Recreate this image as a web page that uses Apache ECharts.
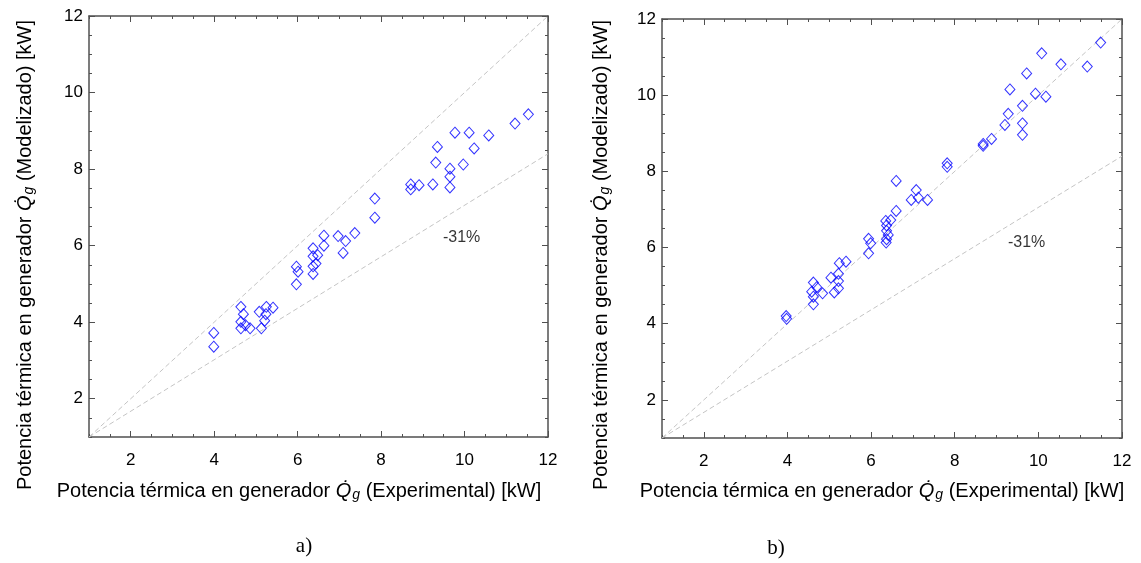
<!DOCTYPE html>
<html>
<head>
<meta charset="utf-8">
<script src="https://cdn.jsdelivr.net/npm/echarts@6/dist/echarts.min.js"></script>
<style>
  html, body { margin: 0; padding: 0; background: #fff; }
  #main { width: 1141px; height: 563px; }
</style>
</head>
<body>
<div id="main"></div>
<script>
// Qg experimental vs modelled, panel a) and b)
const leftExp = [3.99,3.99,4.64,4.70,4.64,4.64,4.75,4.86,5.08,5.13,5.21,5.24,5.25,5.41,5.97,6.01,5.97,6.37,6.37,6.37,6.37,6.44,6.48,6.63,6.63,6.97,7.15,7.09,7.37,7.85,7.85,8.71,8.71,8.91,9.24,9.31,9.35,9.65,9.65,9.65,9.77,9.97,10.11,10.23,10.58,11.21,11.53];
const leftMod = [3.72,3.36,4.40,4.21,4.01,3.84,3.92,3.84,4.27,3.84,4.04,4.21,4.40,4.38,5.45,5.32,4.99,5.93,5.72,5.46,5.26,5.53,5.75,6.00,6.26,6.25,6.12,5.81,6.33,7.23,6.73,7.60,7.47,7.58,7.60,8.17,8.58,8.01,7.80,7.52,8.95,8.12,8.95,8.54,8.88,9.19,9.43];

const rightExp = [3.97,3.98,4.62,4.58,4.70,4.62,4.62,4.84,5.04,5.12,5.22,5.22,5.22,5.24,5.40,5.94,5.99,5.94,6.35,6.37,6.37,6.41,6.37,6.36,6.47,6.60,6.60,6.96,7.08,7.13,7.35,7.82,7.82,8.68,8.68,8.88,9.20,9.28,9.32,9.62,9.62,9.62,9.72,9.93,10.08,10.18,10.54,11.17,11.49];
const rightMod = [4.20,4.13,5.08,4.84,4.96,4.71,4.51,4.80,5.21,4.82,5.31,5.12,4.93,5.59,5.63,6.23,6.11,5.85,6.70,6.58,6.44,6.33,6.22,6.13,6.72,6.96,7.75,7.25,7.51,7.31,7.25,8.21,8.12,8.72,8.67,8.85,9.22,9.51,10.15,9.72,9.26,8.96,10.57,10.04,11.10,9.96,10.81,10.75,11.38];

// reference lines (y = x and the -31% line), drawn from corner to corner
const lineX = [1, 12];
const idealY = [1, 12];
const lowY = [1, 8.4];

const tickLabels = [2, 4, 6, 8, 10, 12];
const pctText = '-31%';
const pctLeft = [9.93, 6.22];
const pctRight = [9.72, 6.12];

const FONT = "'Liberation Sans', Arial, sans-serif";
const AXIS_COLOR = '#505050';

const zip = (a, b) => a.map((v, i) => [v, b[i]]);

function makeAxes(grid, dim) {
  const sides = dim === 'x' ? ['bottom', 'top'] : ['left', 'right'];
  const out = [];
  sides.forEach((pos, k) => {
    const base = {type: 'value', gridIndex: grid, position: pos, min: 1, max: 12, splitLine: {show: false}};
    // minor ticks every 0.5 + box line
    out.push(Object.assign({}, base, {
      interval: 0.5,
      axisLine: {show: true, lineStyle: {color: AXIS_COLOR, width: 1.5}},
      axisTick: {show: true, inside: true, length: 3, lineStyle: {color: AXIS_COLOR, width: 1}},
      axisLabel: {show: false}
    }));
    // major ticks + labels
    out.push(Object.assign({}, base, {
      interval: 0.5,
      axisLine: {show: false},
      axisTick: {show: true, inside: true, length: 6, customValues: tickLabels, lineStyle: {color: AXIS_COLOR, width: 1}},
      axisLabel: {
        show: k === 0,
        customValues: tickLabels,
        fontSize: 17,
        fontFamily: FONT,
        color: '#000',
        margin: dim === 'x' ? 15 : 6
      }
    }));
  });
  return out;
}

const xAxes = makeAxes(0, 'x').concat(makeAxes(1, 'x'));
const yAxes = makeAxes(0, 'y').concat(makeAxes(1, 'y'));

function panelSeries(g, xs, ys, pct) {
  const xi = g * 4 + 1, yi = g * 4 + 1;
  const dashed = {color: '#c4c4c4', width: 1, type: [5, 3]};
  return [
    {type: 'line', xAxisIndex: xi, yAxisIndex: yi, data: zip(lineX, idealY), symbol: 'none', silent: true, lineStyle: dashed, z: 1},
    {type: 'line', xAxisIndex: xi, yAxisIndex: yi, data: zip(lineX, lowY), symbol: 'none', silent: true, lineStyle: dashed, z: 1},
    {
      type: 'scatter', xAxisIndex: xi, yAxisIndex: yi,
      data: zip(xs, ys),
      symbol: 'diamond', symbolSize: [10, 11],
      itemStyle: {color: 'rgba(0,0,0,0)', borderColor: '#0000ff', borderWidth: 1},
      z: 3
    },
    {
      type: 'scatter', xAxisIndex: xi, yAxisIndex: yi,
      data: [pct], symbolSize: 0, silent: true,
      label: {show: true, position: 'inside', formatter: pctText, fontSize: 16, fontFamily: FONT, color: '#000'}
    }
  ];
}

const nameRich = {
  q: {fontStyle: 'italic', fontSize: 20, fontFamily: FONT, fill: '#000'},
  s: {fontStyle: 'italic', fontSize: 14, fontFamily: FONT, fill: '#000', padding: [9, 0, 0, 1]}
};
const xName = 'Potencia térmica en generador {q|Q\u0307}{s|g} (Experimental) [kW]';
const yName = 'Potencia térmica en generador {q|Q\u0307}{s|g} (Modelizado) [kW]';

function nameText(text, x, y, rot) {
  return {
    type: 'text', x: x, y: y, rotation: rot,
    style: {text: text, x: 0, y: 0, fontSize: 20, fontFamily: FONT, fill: '#000',
      align: 'center', verticalAlign: 'middle', rich: nameRich}
  };
}

const chart = echarts.init(document.getElementById('main'), null, {renderer: 'canvas'});
chart.setOption({
  animation: false,
  backgroundColor: '#fff',
  grid: [
    {left: 89, top: 16, width: 459, height: 421},
    {left: 662, top: 19, width: 460, height: 419}
  ],
  xAxis: xAxes,
  yAxis: yAxes,
  series: panelSeries(0, leftExp, leftMod, pctLeft).concat(panelSeries(1, rightExp, rightMod, pctRight)),
  graphic: [
    nameText(xName, 299, 491, 0),
    nameText(xName, 882, 491, 0),
    nameText(yName, 25, 255, Math.PI / 2),
    nameText(yName, 601, 255, Math.PI / 2),
    {type: 'text', x: 304, y: 546, style: {text: 'a)', fontSize: 21, fontFamily: "'Liberation Serif', serif", fill: '#000', align: 'center', verticalAlign: 'middle'}},
    {type: 'text', x: 776, y: 548, style: {text: 'b)', fontSize: 21, fontFamily: "'Liberation Serif', serif", fill: '#000', align: 'center', verticalAlign: 'middle'}}
  ]
});
</script>
</body>
</html>
